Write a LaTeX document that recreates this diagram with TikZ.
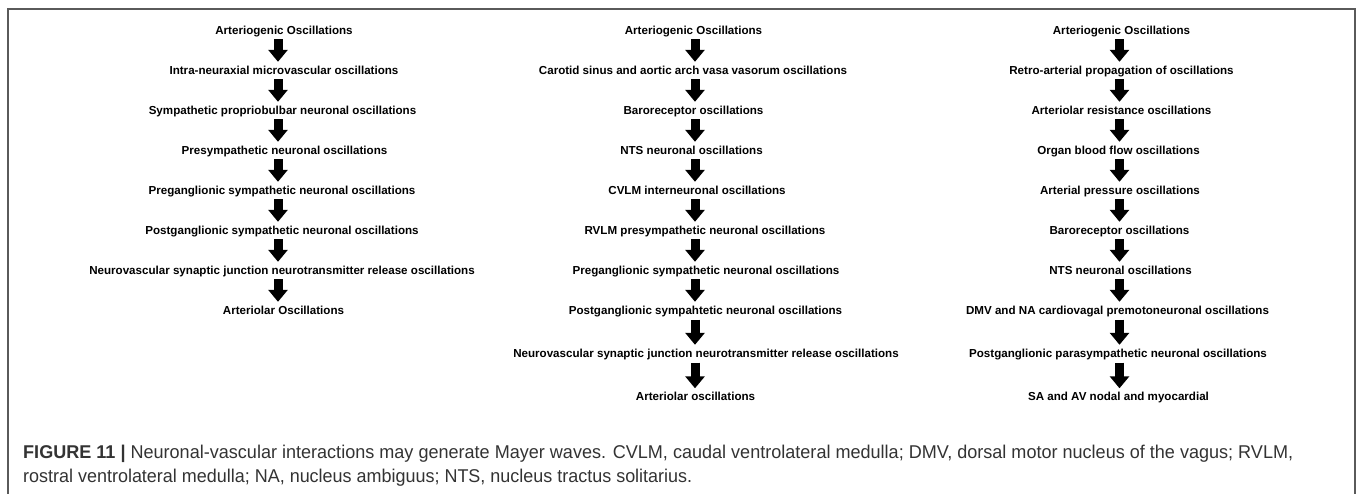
\documentclass[tikz,border=0pt]{standalone}
\usepackage{fontspec}
\setmainfont{Liberation Sans}
\usepackage{graphicx}
\usetikzlibrary{arrows.meta}
\definecolor{capgray}{HTML}{333333}
\definecolor{framegray}{HTML}{5A5A5A}
\tikzset{
  lab/.style={font=\fontsize{11.6}{13}\selectfont\bfseries, inner sep=0pt,
    text height=8.3pt, text depth=0pt, anchor=south},
  flow/.style={line width=9pt, -{Triangle[width=19pt,length=12pt]},
    shorten <=5pt, shorten >=4pt},
  captxt/.style={anchor=base west, inner sep=0pt, text=capgray,
    font=\fontsize{18.5}{21}\selectfont}
}
\begin{document}
\begin{tikzpicture}[x=1pt,y=-1pt]
\useasboundingbox (0,0) rectangle (1357,494);
\draw[framegray, line width=2pt] (8,520) -- (8,9) -- (1355,9) -- (1355,520);

% arrow columns
\coordinate (c1) at (278,0);
\coordinate (c2) at (695,0);
\coordinate (c3) at (1119.5,0);

% column 1
\node[lab] (a1) at (284,34.5) {Arteriogenic Oscillations};
\node[lab] (a2) at (284,74.5) {Intra-neuraxial microvascular oscillations};
\node[lab] (a3) at (282.5,114.5) {Sympathetic propriobulbar neuronal oscillations};
\node[lab] (a4) at (284.5,154.5) {Presympathetic neuronal oscillations};
\node[lab] (a5) at (282,194.5) {Preganglionic sympathetic neuronal oscillations};
\node[lab] (a6) at (282,234.5) {Postganglionic sympathetic neuronal oscillations};
\node[lab] (a7) at (282,274.5) {Neurovascular synaptic junction neurotransmitter release oscillations};
\node[lab] (a8) at (283.5,314.5) {Arteriolar Oscillations};

% column 2
\node[lab] (b1) at (693.5,34.5) {Arteriogenic Oscillations};
\node[lab] (b2) at (693,74.5) {Carotid sinus and aortic arch vasa vasorum oscillations};
\node[lab] (b3) at (693.5,114.5) {Baroreceptor oscillations};
\node[lab] (b4) at (691.5,154.5) {NTS neuronal oscillations};
\node[lab] (b5) at (697,194.5) {CVLM interneuronal oscillations};
\node[lab] (b6) at (705,234.5) {RVLM presympathetic neuronal oscillations};
\node[lab] (b7) at (706,274.5) {Preganglionic sympathetic neuronal oscillations};
\node[lab] (b8) at (705.5,314.5) {Postganglionic sympahtetic neuronal oscillations};
\node[lab] (b9) at (706,357.5) {Neurovascular synaptic junction neurotransmitter release oscillations};
\node[lab] (b10) at (695.5,401) {Arteriolar oscillations};

% column 3
\node[lab] (d1) at (1121.5,34.5) {Arteriogenic Oscillations};
\node[lab] (d2) at (1121.5,74.5) {Retro-arterial propagation of oscillations};
\node[lab] (d3) at (1121.5,114.5) {Arteriolar resistance oscillations};
\node[lab] (d4) at (1118.5,154.5) {Organ blood flow oscillations};
\node[lab] (d5) at (1120,194.5) {Arterial pressure oscillations};
\node[lab] (d6) at (1119.5,234.5) {Baroreceptor oscillations};
\node[lab] (d7) at (1120.5,274.5) {NTS neuronal oscillations};
\node[lab] (d8) at (1117.5,314.5) {DMV and NA cardiovagal premotoneuronal oscillations};
\node[lab] (d9) at (1118,357.5) {Postganglionic parasympathetic neuronal oscillations};
\node[lab] (d10) at (1118.5,401) {SA and AV nodal and myocardial};

% arrows
\foreach \i [evaluate=\i as \j using int(\i+1)] in {1,...,7}
  \draw[flow] (a\i.south -| c1) -- (a\j.north -| c1);
\foreach \i [evaluate=\i as \j using int(\i+1)] in {1,...,9}
  \draw[flow] (b\i.south -| c2) -- (b\j.north -| c2);
\foreach \i [evaluate=\i as \j using int(\i+1)] in {1,...,9}
  \draw[flow] (d\i.south -| c3) -- (d\j.north -| c3);

% caption
\node[captxt] (cap1) at (23,458) {\resizebox{1270pt}{\height}{\textbf{FIGURE 11 |} Neuronal-vascular interactions may generate Mayer waves. CVLM, caudal ventrolateral medulla; DMV, dorsal motor nucleus of the vagus; RVLM,}};
\node[captxt] (cap2) at (23,482) {\resizebox{669pt}{\height}{rostral ventrolateral medulla; NA, nucleus ambiguus; NTS, nucleus tractus solitarius.}};
\end{tikzpicture}
\end{document}
